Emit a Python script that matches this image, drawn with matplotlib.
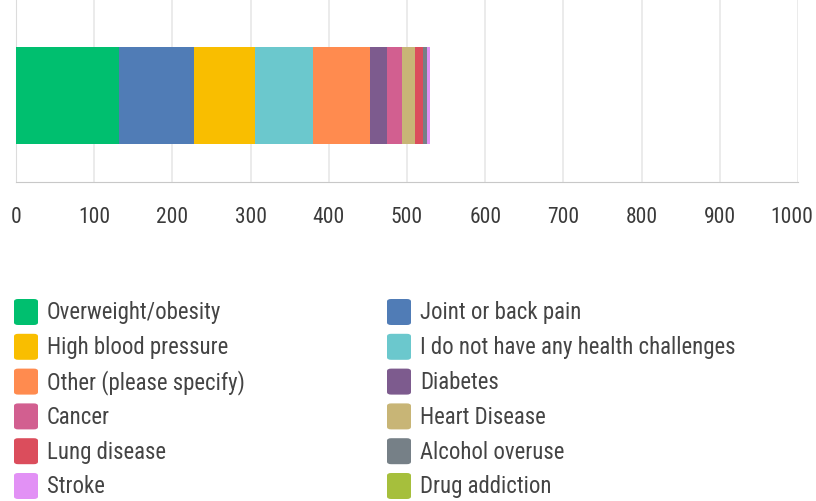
import matplotlib.pyplot as plt
import matplotlib.transforms as mtransforms
from matplotlib.patches import FancyBboxPatch

plt.rcParams['font.family'] = ['Roboto Condensed', 'Roboto', 'DejaVu Sans']

categories = ['Overweight/obesity', 'Joint or back pain', 'High blood pressure',
              'I do not have any health challenges', 'Other (please specify)',
              'Diabetes', 'Cancer', 'Heart Disease', 'Lung disease',
              'Alcohol overuse', 'Stroke', 'Drug addiction']
values = [132, 96, 78, 74, 73, 21, 20, 16, 10, 6, 4, 0]
colors = ['#00bf6f', '#507cb6', '#f9be00', '#6bc8cd', '#ff8b4f', '#7d5b8e',
          '#d25f90', '#c8b576', '#db4d5c', '#768087', '#e291f5', '#a6bf3c']
xticks = [0, 100, 200, 300, 400, 500, 600, 700, 800, 900, 1000]

fig = plt.figure(figsize=(8.16, 5.02), dpi=100)
ax = fig.add_axes([16/816, 1 - 183/502, 782/816, 183/502])

left = 0
for v, c in zip(values, colors):
    ax.barh(0.473, v, left=left, height=0.53, color=c, linewidth=0, zorder=3)
    left += v

ax.set_xlim(0, 1000)
ax.set_ylim(0, 1)
ax.set_xticks(xticks)
ax.set_yticks([])
ax.grid(axis='x', color='#e8e8e8', linewidth=1.2, zorder=0)
for s in ['top', 'right']:
    ax.spines[s].set_visible(False)
ax.spines['bottom'].set_color('#c8c8c8')
ax.spines['left'].set_color('#dcdcdc')
ax.tick_params(axis='x', length=0, pad=17, labelsize=15.5, labelcolor='#3a3a3a')
# nudge the last label so it stays inside the picture
last = ax.get_xticklabels()[-1]
last.set_transform(last.get_transform() +
                   mtransforms.ScaledTranslation(-6/100, 0, fig.dpi_scale_trans))

# legend, two columns, row-major
for i, (name, c) in enumerate(zip(categories, colors)):
    col, row = i % 2, i // 2
    x0 = 14 if col == 0 else 387
    yc = 313 + row * 34.8
    fig.patches.append(FancyBboxPatch((x0 / 816, 1 - (yc + 13) / 502), 24 / 816, 26 / 502,
                                      boxstyle='round,pad=0,rounding_size=0.005',
                                      transform=fig.transFigure, facecolor=c,
                                      edgecolor='none', figure=fig))
    fig.text((x0 + 33) / 816, 1 - yc / 502, name, va='center', ha='left',
             fontsize=16.4, color='#444444')

fig.savefig('out.png', dpi=100)
